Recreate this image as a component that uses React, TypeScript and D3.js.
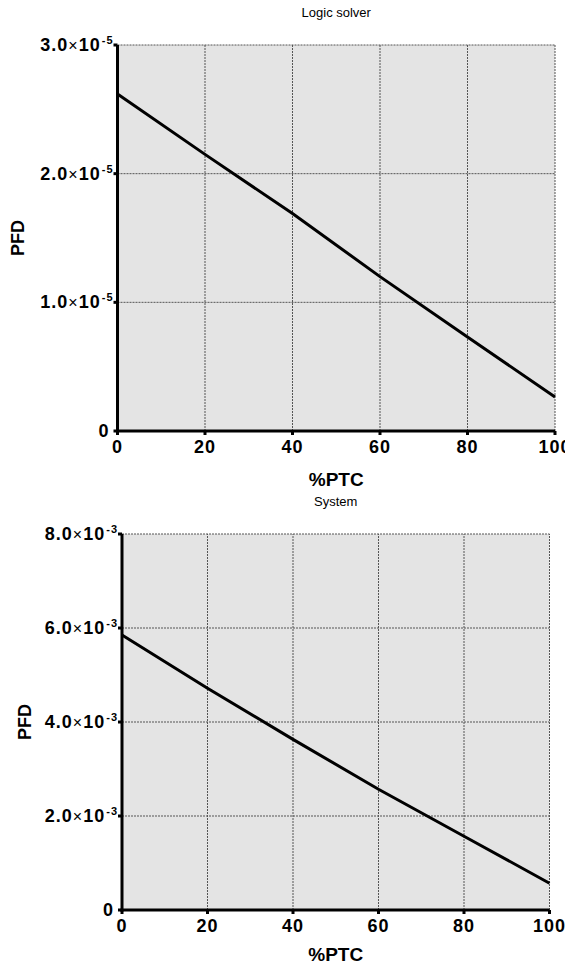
import React from "react";
import * as d3 from "d3";

const ptc = [0, 20, 40, 60, 80, 100];
const logicPFD = [2.62e-5, 2.15e-5, 1.69e-5, 1.2e-5, 0.73e-5, 0.265e-5];
const systemPFD = [5.85e-3, 4.72e-3, 3.63e-3, 2.57e-3, 1.57e-3, 0.57e-3];
const xTicks = [0, 20, 40, 60, 80, 100];
const logicTicks = [0, 1e-5, 2e-5, 3e-5];
const systemTicks = [0, 2e-3, 4e-3, 6e-3, 8e-3];

const FONT = "'Liberation Sans', Arial, Helvetica, sans-serif";

type PanelProps = {
  title: string;
  xs: number[];
  ys: number[];
  yTicks: number[];
  yMax: number;
  exp: number;
  left: number;
  right: number;
  top: number;
  bottom: number;
  yTitleX: number;
  xTitleOffset: number;
};

function Panel(p: PanelProps) {
  const x = d3.scaleLinear().domain([0, 100]).range([p.left, p.right]);
  const y = d3.scaleLinear().domain([0, p.yMax]).range([p.bottom, p.top]);
  const line = d3
    .line<number>()
    .x((_, i) => x(p.xs[i]))
    .y((d) => y(d));
  const cx = (p.left + p.right) / 2;
  const cy = (p.top + p.bottom) / 2;
  return (
    <g fontFamily={FONT}>
      <text x={cx} y={p.top - 28} textAnchor="middle" fontSize={13} fill="#000">
        {p.title}
      </text>
      <rect x={x(0)} y={y(p.yMax)} width={x(100) - x(0)} height={y(0) - y(p.yMax)} fill="#e4e4e4" />
      {xTicks.map((t) => (
        <line key={"gx" + t} x1={x(t)} x2={x(t)} y1={y(0)} y2={y(p.yMax)} stroke="#555" strokeWidth={1} strokeDasharray="2 1" />
      ))}
      {p.yTicks.map((t) => (
        <line key={"gy" + t} x1={x(0)} x2={x(100)} y1={y(t)} y2={y(t)} stroke="#555" strokeWidth={1} strokeDasharray="2 1" />
      ))}
      <path d={line(p.ys) || ""} fill="none" stroke="#000" strokeWidth={3} />
      <line x1={x(0)} x2={x(0)} y1={y(0) + 1.5} y2={y(p.yMax)} stroke="#000" strokeWidth={3} />
      <line x1={x(0) - 1.5} x2={x(100)} y1={y(0)} y2={y(0)} stroke="#000" strokeWidth={3} />
      {p.yTicks.map((t) => (
        <line key={"ty" + t} x1={x(0) - 4} x2={x(0)} y1={y(t)} y2={y(t)} stroke="#000" strokeWidth={3} />
      ))}
      {xTicks.map((t) => (
        <line key={"tx" + t} x1={x(t)} x2={x(t)} y1={y(0)} y2={y(0) + 4} stroke="#000" strokeWidth={3} />
      ))}
      {p.yTicks.map((t) =>
        t === 0 ? (
          <text key={"ly" + t} x={x(0) - 8} y={y(t) + 6} textAnchor="end" fontSize={18} fontWeight="bold" letterSpacing={1}>
            0
          </text>
        ) : (
          <text key={"ly" + t} x={x(0) - 4} y={y(t) + 6} textAnchor="end" fontSize={18} fontWeight="bold" letterSpacing={1}>
            <tspan>{(t / Math.pow(10, p.exp)).toFixed(1)}</tspan>
            <tspan fontWeight="normal" fontSize={16}>×</tspan>
            <tspan>10</tspan>
            <tspan fontSize={11} dy={-7} dx={1}>{"-" + Math.abs(p.exp)}</tspan>
          </text>
        )
      )}
      {xTicks.map((t) => (
        <text key={"lx" + t} x={x(t)} y={y(0) + 22} textAnchor="middle" fontSize={18} fontWeight="bold" letterSpacing={1}>
          {t}
        </text>
      ))}
      <text x={cx} y={y(0) + p.xTitleOffset} textAnchor="middle" fontSize={19} fontWeight="bold">
        %PTC
      </text>
      <text
        transform={`translate(${p.yTitleX},${cy}) rotate(-90)`}
        textAnchor="middle"
        dominantBaseline="central"
        fontSize={18}
        fontWeight="bold"
      >
        PFD
      </text>
    </g>
  );
}

export default function App() {
  return (
    <svg
      width={565}
      height={967}
      style={{ position: "absolute", left: 0, top: 0, background: "#fff" }}
    >
      <Panel
        title="Logic solver"
        xs={ptc}
        ys={logicPFD}
        yTicks={logicTicks}
        yMax={3e-5}
        exp={-5}
        left={117.5}
        right={555}
        top={45}
        bottom={431}
        yTitleX={18}
        xTitleOffset={55}
      />
      <Panel
        title="System"
        xs={ptc}
        ys={systemPFD}
        yTicks={systemTicks}
        yMax={8e-3}
        exp={-3}
        left={122}
        right={549.5}
        top={534}
        bottom={910}
        yTitleX={25}
        xTitleOffset={51}
      />
    </svg>
  );
}
